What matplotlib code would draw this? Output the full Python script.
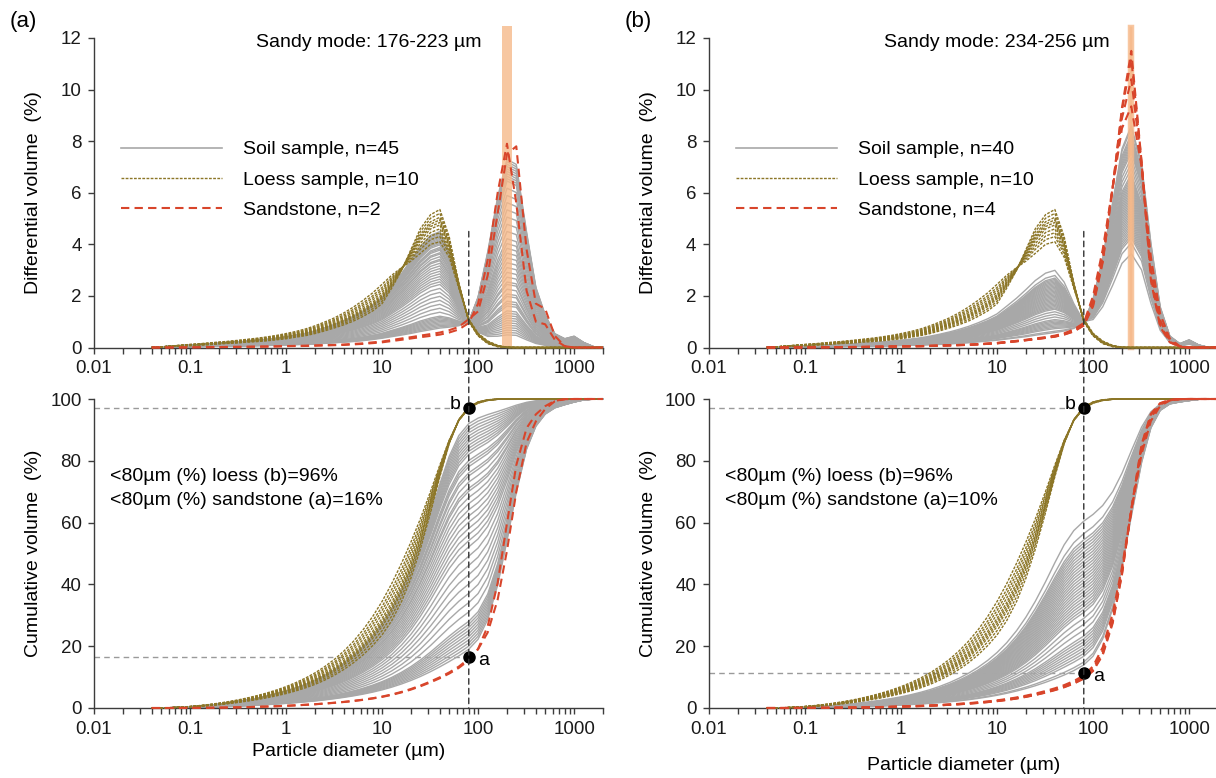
import matplotlib.pyplot as plt
import numpy as np
from matplotlib.lines import Line2D
from matplotlib.patches import ConnectionPatch
from matplotlib.ticker import NullFormatter

plt.rcParams['font.family'] = ['Liberation Sans', 'DejaVu Sans']

# instrument size channels (um)
diam = [0.04, 0.05, 0.06, 0.08,
        0.1, 0.13, 0.16, 0.2, 0.25, 0.32, 0.4, 0.5, 0.63, 0.8,
        1.0, 1.26, 1.6, 2.0, 2.5, 3.2, 4.0, 5.0, 6.3, 8.0,
        10, 12.6, 16, 20, 25, 32, 40, 50, 63, 80,
        100, 126, 160, 200, 250, 320, 400, 500, 630, 800,
        1000, 1260, 1600, 2000]

# loess samples (same set in both panels): narrowest / broadest curve + peak of each sample
loess_hi = [0, 0.02, 0.04, 0.06,
            0.07, 0.1, 0.11, 0.14, 0.16, 0.18, 0.21, 0.23, 0.26, 0.3,
            0.34, 0.4, 0.46, 0.54, 0.64, 0.76, 0.88, 1.02, 1.2, 1.42,
            1.7, 2.3, 3.0, 3.8, 4.6, 5.15, 5.35, 4.3, 2.5, 1.0,
            0.45, 0.15, 0.03, 0, 0, 0, 0, 0, 0, 0,
            0, 0, 0, 0]
loess_lo = [0, 0.02, 0.05, 0.09,
            0.12, 0.15, 0.18, 0.21, 0.24, 0.28, 0.32, 0.36, 0.41, 0.47,
            0.54, 0.62, 0.72, 0.84, 0.98, 1.15, 1.34, 1.56, 1.82, 2.12,
            2.45, 2.8, 3.1, 3.35, 3.65, 4.0, 4.1, 3.5, 2.3, 1.1,
            0.55, 0.25, 0.08, 0.01, 0, 0, 0, 0, 0, 0,
            0, 0, 0, 0]
loess_peaks = [5.35, 5.2, 5.05, 4.95, 4.85, 4.75, 4.6, 4.45, 4.3, 4.1]

# panel (a)
sand_a1 = [0, 0, 0, 0.003,
           0.005, 0.01, 0.012, 0.015, 0.02, 0.023, 0.026, 0.03, 0.035, 0.04,
           0.05, 0.055, 0.06, 0.07, 0.08, 0.09, 0.1, 0.12, 0.14, 0.17,
           0.2, 0.25, 0.3, 0.35, 0.4, 0.45, 0.5, 0.58, 0.7, 0.95,
           1.7, 3.4, 6.0, 7.9, 5.6, 2.2, 1.0, 0.9, 0.3, 0.05,
           0, 0, 0, 0]
sand_a2 = [0, 0, 0, 0.004,
           0.006, 0.011, 0.014, 0.017, 0.023, 0.026, 0.03, 0.035, 0.04, 0.046,
           0.057, 0.063, 0.07, 0.08, 0.092, 0.1, 0.115, 0.14, 0.16, 0.2,
           0.23, 0.29, 0.35, 0.4, 0.46, 0.52, 0.58, 0.67, 0.8, 1.1,
           1.4, 2.8, 5.2, 7.5, 7.8, 3.8, 1.7, 1.5, 0.45, 0.05,
           0, 0, 0, 0]
soil_sand_a = [0, 0, 0.01, 0.02,
               0.03, 0.035, 0.04, 0.045, 0.05, 0.055, 0.06, 0.065, 0.07, 0.08,
               0.09, 0.1, 0.11, 0.12, 0.14, 0.16, 0.18, 0.2, 0.23, 0.27,
               0.31, 0.36, 0.41, 0.46, 0.52, 0.58, 0.64, 0.7, 0.8, 1.0,
               2.0, 3.8, 6.0, 7.5, 7.3, 4.6, 2.4, 1.3, 0.55, 0.35,
               0.45, 0.2, 0.03, 0]
# <80 um fraction of each soil sample (%), read at 80 um on the cumulative plot
soil_fine80_a = [92, 91, 90, 89, 88, 87, 86, 85, 84, 83,
                 82, 80, 79, 78, 76, 75, 73, 71, 70, 68,
                 66, 64, 62, 60, 58, 56, 54, 52, 49, 46,
                 43, 40, 37, 34, 31, 28, 27, 26, 25, 24,
                 23, 22, 21, 20, 19]

# panel (b)
sand_b_hi = [0, 0, 0, 0.003,
             0.005, 0.008, 0.01, 0.012, 0.015, 0.018, 0.02, 0.025, 0.03, 0.035,
             0.04, 0.045, 0.05, 0.06, 0.07, 0.08, 0.09, 0.1, 0.12, 0.14,
             0.16, 0.2, 0.24, 0.28, 0.32, 0.37, 0.42, 0.5, 0.62, 0.85,
             1.6, 3.3, 6.2, 9.3, 11.5, 7.2, 2.6, 0.8, 0.2, 0.03,
             0, 0, 0, 0]
sand_b_lo = [0, 0, 0.003, 0.005,
             0.007, 0.01, 0.012, 0.015, 0.018, 0.021, 0.024, 0.028, 0.033, 0.039,
             0.045, 0.05, 0.056, 0.065, 0.075, 0.088, 0.1, 0.11, 0.13, 0.155,
             0.18, 0.22, 0.26, 0.3, 0.35, 0.4, 0.46, 0.55, 0.7, 0.95,
             2.0, 3.8, 6.2, 8.5, 9.35, 7.0, 3.5, 1.3, 0.35, 0.05,
             0, 0, 0, 0]
sand_b_peaks = [11.5, 11.2, 10.4, 9.35]
soil_sand_b = [0, 0, 0.005, 0.01,
               0.015, 0.02, 0.025, 0.03, 0.035, 0.04, 0.045, 0.05, 0.055, 0.06,
               0.07, 0.08, 0.09, 0.1, 0.11, 0.13, 0.15, 0.17, 0.2, 0.23,
               0.26, 0.3, 0.34, 0.38, 0.43, 0.48, 0.53, 0.6, 0.72, 0.95,
               1.9, 3.5, 5.7, 7.8, 8.7, 7.2, 4.1, 1.6, 0.45, 0.15,
               0.3, 0.1, 0, 0]
soil_fine80_b = [62, 58, 56, 55, 54, 53, 52, 51, 50, 49,
                 48, 47, 46, 45, 44, 43, 42, 41, 40, 39,
                 38, 37, 36, 35, 34, 33, 32, 30, 28, 26,
                 24, 23, 22, 21, 20, 19, 18, 17, 15, 14]

# sandy mode ranges and the 80 um reference points
cut_size = 80
mode_a = (176, 223)
mode_b = (234, 256)
point_loess = 97
point_sand_a = 16.5
point_sand_b = 11.2
loess_txt = 96
sand_txt_a = 16
sand_txt_b = 10

SOIL_C = '#a8a8a8'
LOESS_C = '#8c7627'
SAND_C = '#d8452b'
BAND_C = '#f6b98a'
AX_C = '#3c3c3c'
LOESS_LS = (0, (2.0, 1.0))
SAND_LS = (0, (4, 2.5))

i80 = diam.index(cut_size)


def cumulative(diff):
    x = np.log10(diam)
    y = np.asarray(diff, float)
    c = np.concatenate([[0], np.cumsum((y[1:] + y[:-1]) / 2 * np.diff(x))])
    return c / c[-1] * 100


def blend(hi, lo, peak):
    hi = np.asarray(hi, float)
    lo = np.asarray(lo, float)
    w = (peak - lo.max()) / (hi.max() - lo.max())
    return w * hi + (1 - w) * lo


def soil_mix(sand, loess, fine80):
    s80 = cumulative(sand)[i80]
    l80 = cumulative(loess)[i80]
    out = []
    for p in fine80:
        f = np.clip((p - s80) / (l80 - s80), 0, 1)
        out.append(f * loess + (1 - f) * np.asarray(sand, float))
    return out


loess = [blend(loess_hi, loess_lo, p) for p in loess_peaks]
loess_mean = np.mean(loess, axis=0)
soil_a = soil_mix(soil_sand_a, loess_mean, soil_fine80_a)
soil_b = soil_mix(soil_sand_b, loess_mean, soil_fine80_b)
sand_a = [np.asarray(sand_a1), np.asarray(sand_a2)]
sand_b = [blend(sand_b_hi, sand_b_lo, p) for p in sand_b_peaks]

fig = plt.figure(figsize=(12.16, 7.78), dpi=100)
W, H = 1216, 778


def add_ax(x0, y_bottom, y_top, width=509):
    return fig.add_axes([x0 / W, 1 - y_bottom / H, width / W, (y_bottom - y_top) / H])


def style(ax, ymax, ystep):
    ax.set_xscale('log')
    ax.set_xlim(0.01, 2000)
    ax.set_ylim(0, ymax)
    ax.set_xticks([0.01, 0.1, 1, 10, 100, 1000], ['0.01', '0.1', '1', '10', '100', '1000'])
    ax.xaxis.set_minor_formatter(NullFormatter())
    ax.set_yticks(np.arange(0, ymax + 0.1, ystep))
    for s in ['top', 'right']:
        ax.spines[s].set_visible(False)
    for s in ['left', 'bottom']:
        ax.spines[s].set_color(AX_C)
        ax.spines[s].set_linewidth(1)
    ax.tick_params(which='both', direction='out', length=4, width=1, color=AX_C,
                   labelsize=13.5, pad=5, labelcolor='#1a1a1a')
    ax.yaxis.set_label_coords(-0.102, 0.5)


def draw_panel(x0, tag, soil, sand, mode, pt_sand, sand_txt, xlab_y, text_x, band_lw):
    ax1 = add_ax(x0, 347.5, 38)
    ax2 = add_ax(x0, 708, 399)
    style(ax1, 12, 2)
    style(ax2, 100, 20)

    for c in soil:
        ax1.plot(diam, c, color=SOIL_C, lw=1.0, zorder=2, clip_on=False)
        ax2.plot(diam, cumulative(c), color=SOIL_C, lw=1.0, zorder=2, clip_on=False)
    for c in loess:
        ax1.plot(diam, c, color=LOESS_C, lw=1.0, ls=LOESS_LS, zorder=3, clip_on=False)
        ax2.plot(diam, cumulative(c), color=LOESS_C, lw=1.0, ls=LOESS_LS, zorder=3, clip_on=False)
    for c in sand:
        ax1.plot(diam, c, color=SAND_C, lw=1.5, ls=SAND_LS, zorder=4, clip_on=False)
        ax2.plot(diam, cumulative(c), color=SAND_C, lw=1.5, ls=SAND_LS, zorder=4, clip_on=False)

    ax1.axvspan(mode[0], mode[1], ymin=0, ymax=12.45 / 12, facecolor=BAND_C, edgecolor=BAND_C,
                alpha=0.8, lw=band_lw, zorder=2.5, clip_on=False)
    ax1.text(text_x, 0.984, f'Sandy mode: {mode[0]}-{mode[1]} µm', transform=ax1.transAxes,
             ha='center', va='center', fontsize=14)

    handles = [Line2D([], [], color=SOIL_C, lw=1.2),
               Line2D([], [], color=LOESS_C, lw=1.0, ls=LOESS_LS),
               Line2D([], [], color=SAND_C, lw=1.5, ls=SAND_LS)]
    labels = [f'Soil sample, n={len(soil)}', f'Loess sample, n={len(loess)}',
              f'Sandstone, n={len(sand)}']
    ax1.legend(handles, labels, loc='upper left', bbox_to_anchor=(0.053, 0.668), frameon=False,
               fontsize=14, handlelength=5.2, handletextpad=1.1, labelspacing=0.65,
               borderpad=0, borderaxespad=0)

    ax1.set_ylabel('Differential volume  (%)', fontsize=14)
    ax2.set_ylabel('Cumulative volume  (%)', fontsize=14)
    ax2.set_xlabel('Particle diameter (µm)', fontsize=14)
    ax2.xaxis.set_label_coords(0.5, xlab_y)

    # 80 um reference lines and points
    con = ConnectionPatch(xyA=(cut_size, 4.5), coordsA=ax1.transData,
                          xyB=(cut_size, 0), coordsB=ax2.transData,
                          color='#333333', lw=1, ls=(0, (4, 3)), zorder=5)
    fig.add_artist(con)
    for yv in [point_loess, pt_sand]:
        ax2.plot([0.01, cut_size], [yv, yv], color='#9a9a9a', lw=1, ls=(0, (4, 3)), zorder=1)
    ax2.plot([cut_size, cut_size], [point_loess, pt_sand], 'o', color='black', ms=8, zorder=6,
             clip_on=False)
    ax2.annotate('b', (cut_size, point_loess), xytext=(-8, 4), textcoords='offset pixels',
                 ha='right', va='center', fontsize=14)
    ax2.annotate('a', (cut_size, pt_sand), xytext=(9, -3), textcoords='offset pixels',
                 ha='left', va='center', fontsize=14)
    ax2.text(0.032, 0.748, f'<80µm (%) loess (b)={loess_txt}%', transform=ax2.transAxes,
             ha='left', va='center', fontsize=14)
    ax2.text(0.032, 0.672, f'<80µm (%) sandstone (a)={sand_txt}%', transform=ax2.transAxes,
             ha='left', va='center', fontsize=14)

    fig.text((x0 - 71) / W, 1 - 22 / H, tag, fontsize=16, ha='center', va='center')


draw_panel(94, '(a)', soil_a, sand_a, mode_a, point_sand_a, sand_txt_a, -0.113, 0.54, 0)
draw_panel(709, '(b)', soil_b, sand_b, mode_b, point_sand_b, sand_txt_b, -0.158, 0.565, 2.5)

fig.savefig('out.png', dpi=100)
